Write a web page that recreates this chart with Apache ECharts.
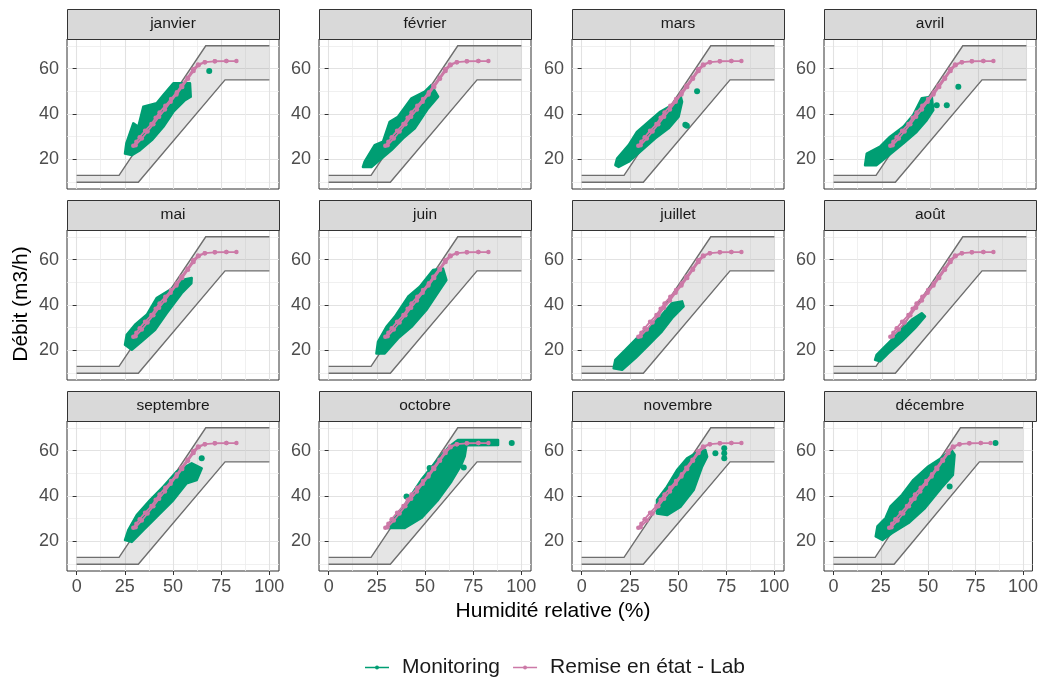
<!DOCTYPE html>
<html>
<head>
<meta charset="utf-8">
<script src="https://cdn.jsdelivr.net/npm/echarts@6/dist/echarts.min.js"></script>
<style>
html, body { margin: 0; padding: 0; background: #fff; }
#chart { width: 1041px; height: 678px; }
</style>
</head>
<body>
<div id="chart"></div>
<script>
var months = ['janvier', 'février', 'mars', 'avril', 'mai', 'juin',
    'juillet', 'août', 'septembre', 'octobre', 'novembre', 'décembre'];

var xTicks = [0, 25, 50, 75, 100];
var xMinor = [12.5, 37.5, 62.5, 87.5];
var yTicks = [20, 40, 60];
var yMinor = [10, 30, 50, 70];

// grey tolerance band, same in every panel
var bandUpper = [[0, 13], [22, 13], [67, 70], [100, 70]];
var bandLower = [[0, 10], [32, 10], [77, 55], [100, 55]];

// lab curve (rising then falling strand)
var labCurve = [[29.4, 26.0], [31, 27.8], [32.7, 29.8], [35.5, 32.6], [38.8, 35.6], [41, 38.3], [43, 40.7],
    [46, 43.6], [49, 46.6], [52, 49.6], [54.3, 52.4], [57.5, 56.0], [60.4, 59.7], [63, 61.8], [66.5, 62.8],
    [71.7, 63.2], [77.7, 63.3], [82.9, 63.3], [77.7, 63.3], [71.7, 63.2], [66.5, 62.8], [63.3, 61.5],
    [60.7, 58.9], [57.8, 55.5], [54.8, 51.9], [51.8, 48.6], [48.8, 45.4], [45.8, 42.0], [42.8, 38.8],
    [39.8, 35.5], [36.8, 32.3], [33.8, 29.2], [30.6, 26.3]];

// monitoring point clouds: outline of the dense area + isolated points
var cloudJanvier = [[25.1, 22.6], [25.8, 27.1], [29.4, 35.9], [32.0, 34.4], [34.6, 43.2], [41.5, 44.7], [45.0, 48.3],
    [50.2, 53.5], [58.8, 53.5], [59.2, 47.6], [56.2, 46.1], [50.2, 41.0], [45.0, 34.4], [39.0, 28.5], [32.9, 24.1], [28.6, 21.9]];
var extraJanvier = [[68.8, 58.9]];
var cloudFevrier = [[17.8, 16.7], [18.7, 19.0], [23.9, 26.3], [28.2, 27.8], [31.7, 36.6], [36.0, 38.8], [43.0, 46.9],
    [49.9, 49.8], [53.3, 52.7], [56.8, 47.6], [51.6, 42.5], [44.7, 33.7], [38.6, 29.3], [32.6, 24.1], [27.4, 20.4], [22.2, 16.7]];
var extraFevrier = [];
var cloudMars = [[17.5, 17.5], [18.4, 20.4], [24.4, 26.3], [28.7, 32.1], [34.8, 36.6], [40.8, 41.0], [46.9, 43.9],
    [51.2, 48.3], [52.1, 45.4], [50.3, 38.8], [45.1, 33.7], [38.2, 29.3], [31.3, 24.1], [24.4, 19.0], [19.2, 16.7]];
var extraMars = [[59.9, 50.0], [53.8, 35.3], [54.6, 34.8]];
var cloudAvril = [[16.3, 17.5], [17.2, 22.6], [24.1, 25.6], [29.3, 30.0], [36.2, 34.4], [41.3, 39.5], [45.7, 46.9],
    [50.9, 47.6], [51.7, 41.7], [48.3, 37.3], [43.1, 32.2], [36.2, 27.1], [27.5, 21.1], [22.3, 17.5]];
var extraAvril = [[53.5, 43.9], [58.7, 43.9], [64.7, 52.0]];
var cloudMai = [[25.1, 22.5], [26.0, 26.9], [30.3, 31.3], [36.4, 35.7], [41.5, 43.0], [48.5, 46.7], [55.4, 51.1],
    [59.7, 51.9], [59.5, 49.5], [54.5, 45.2], [46.7, 36.4], [40.7, 29.1], [33.8, 24.0], [28.6, 20.3]];
var extraMai = [];
var cloudJuin = [[24.8, 18.7], [25.6, 23.8], [30.0, 30.4], [34.3, 34.8], [41.2, 43.6], [47.3, 48.0], [54.2, 55.4],
    [59.3, 56.1], [61.1, 51.0], [57.6, 46.6], [50.7, 37.8], [43.0, 30.4], [36.0, 25.3], [29.1, 18.7]];
var extraJuin = [];
var cloudJuillet = [[16.6, 12.2], [17.5, 15.9], [22.7, 20.3], [28.7, 25.4], [34.8, 29.8], [41.7, 35.7], [46.9, 40.8],
    [52.1, 41.6], [52.9, 39.4], [46.9, 34.2], [41.7, 28.4], [34.8, 22.5], [27.9, 16.6], [21.0, 11.5]];
var extraJuillet = [];
var cloudAout = [[21.5, 15.9], [22.3, 18.1], [28.4, 23.2], [35.3, 29.1], [40.5, 33.5], [45.7, 36.4], [47.4, 35.0],
    [42.2, 29.8], [35.3, 24.0], [28.4, 18.8], [24.1, 15.2]];
var extraAout = [];
var cloudSeptembre = [[25.1, 20.6], [26.8, 25.0], [31.2, 31.6], [38.1, 38.2], [45.0, 44.1], [51.9, 50.7], [59.7, 54.4],
    [64.9, 52.2], [62.3, 47.0], [57.1, 45.6], [50.2, 38.2], [41.5, 30.8], [34.6, 25.0], [28.6, 19.8]];
var extraSeptembre = [[64.9, 56.6]];
var cloudOctobre = [[30.8, 25.9], [31.7, 28.1], [39.5, 36.1], [48.1, 47.1], [56.8, 56.3], [62.8, 61.9], [67.1, 64.6],
    [87.9, 64.6], [87.9, 62.4], [71.5, 62.3], [70.6, 57.5], [68.9, 53.8], [63.7, 46.4], [56.8, 38.3], [48.1, 30.3], [39.5, 25.9]];
var extraOctobre = [[95.0, 63.3], [52.4, 52.3], [40.4, 39.8], [70.1, 52.5]];
var cloudNovembre = [[39.1, 32.3], [39.1, 38.2], [44.3, 44.1], [49.5, 51.4], [54.7, 56.6], [60.7, 59.5], [64.2, 60.2],
    [65.1, 57.3], [62.5, 52.9], [58.1, 42.6], [51.2, 35.2], [44.3, 31.6]];
var extraNovembre = [[69.4, 58.8], [74.0, 61.0], [74.0, 58.8], [74.0, 56.6]];
var cloudDecembre = [[22.3, 22.2], [23.2, 26.6], [27.5, 30.3], [30.1, 35.4], [36.2, 40.5], [42.2, 47.1], [50.0, 53.0],
    [56.9, 56.7], [62.1, 60.4], [63.9, 58.2], [63.0, 49.3], [56.9, 43.5], [48.3, 34.7], [39.6, 28.1], [31.0, 23.7], [25.8, 20.7]];
var extraDecembre = [[61.3, 44.2], [85.5, 63.3]];

var clouds = [cloudJanvier, cloudFevrier, cloudMars, cloudAvril, cloudMai, cloudJuin,
    cloudJuillet, cloudAout, cloudSeptembre, cloudOctobre, cloudNovembre, cloudDecembre];
var extras = [extraJanvier, extraFevrier, extraMars, extraAvril, extraMai, extraJuin,
    extraJuillet, extraAout, extraSeptembre, extraOctobre, extraNovembre, extraDecembre];

var green = '#009E73';
var pink = '#CC79A7';
var font = '"Liberation Sans", Arial, sans-serif';
var colLeft = [67, 319, 572, 824];
var rowTop = [39, 230, 421];
var panelW = 212, panelH = 150;

var chart = echarts.init(document.getElementById('chart'));

function bandRenderer(params, api) {
    if (params.dataIndex !== 0) return null;
    var up = bandUpper.map(function (p) { return api.coord(p); });
    var lo = bandLower.map(function (p) { return api.coord(p); });
    return {
        type: 'group',
        children: [
            {type: 'polygon', shape: {points: up.concat(lo.slice().reverse())},
                style: {fill: 'rgba(150,150,150,0.25)', stroke: null}},
            {type: 'polyline', shape: {points: up}, style: {stroke: '#6e6e6e', lineWidth: 1.4, fill: null}},
            {type: 'polyline', shape: {points: lo}, style: {stroke: '#6e6e6e', lineWidth: 1.4, fill: null}}
        ]
    };
}

function cloudRenderer(points) {
    return function (params, api) {
        if (params.dataIndex !== 0) return null;
        var pts = points.map(function (p) { return api.coord(p); });
        return {
            type: 'polygon',
            shape: {points: pts},
            style: {fill: green, stroke: green, lineWidth: 2.5, lineJoin: 'round'}
        };
    };
}

var grids = [], xAxes = [], yAxes = [], series = [], graphics = [];

for (var i = 0; i < 12; i++) {
    var r = Math.floor(i / 4), c = i % 4;
    var L = colLeft[c], T = rowTop[r];
    var bottomRow = r === 2;

    grids.push({left: L, top: T, width: panelW, height: panelH, show: true,
        backgroundColor: '#fff', borderColor: '#333', borderWidth: 1});

    xAxes.push({
        gridIndex: i, type: 'value', min: -5, max: 105, position: 'bottom',
        axisLine: {show: false},
        axisTick: {show: bottomRow, length: 4, customValues: xTicks, lineStyle: {color: '#333'}},
        axisLabel: {show: bottomRow, customValues: xTicks, margin: 7, fontSize: 18, color: '#4d4d4d', fontFamily: font},
        splitLine: {show: true, lineStyle: {color: '#e2e2e2', width: 1.1}}
    });
    xAxes.push({
        gridIndex: i, type: 'value', min: -5, max: 105, position: 'top',
        axisLine: {show: false},
        axisTick: {show: false, customValues: xMinor},
        axisLabel: {show: false, customValues: xMinor},
        splitLine: {show: true, lineStyle: {color: '#ececec', width: 0.8}}
    });
    yAxes.push({
        gridIndex: i, type: 'value', min: 7, max: 73, position: 'left',
        axisLine: {show: false},
        axisTick: {show: true, length: 4, customValues: yTicks, lineStyle: {color: '#333'}},
        axisLabel: {customValues: yTicks, margin: 8, fontSize: 18, color: '#4d4d4d', fontFamily: font},
        splitLine: {show: true, lineStyle: {color: '#e2e2e2', width: 1.1}}
    });
    yAxes.push({
        gridIndex: i, type: 'value', min: 7, max: 73, position: 'right',
        axisLine: {show: false},
        axisTick: {show: false, customValues: yMinor},
        axisLabel: {show: false, customValues: yMinor},
        splitLine: {show: true, lineStyle: {color: '#ececec', width: 0.8}}
    });

    var xi = 2 * i, yi = 2 * i;
    series.push({
        type: 'custom', xAxisIndex: xi, yAxisIndex: yi, z: 1, silent: true,
        data: bandUpper.concat(bandLower), renderItem: bandRenderer, encode: {x: 0, y: 1}
    });
    series.push({
        name: 'Monitoring', type: 'custom', xAxisIndex: xi, yAxisIndex: yi, z: 2,
        itemStyle: {color: green},
        data: clouds[i], renderItem: cloudRenderer(clouds[i]), encode: {x: 0, y: 1}
    });
    series.push({
        name: 'Monitoring', type: 'scatter', xAxisIndex: xi, yAxisIndex: yi, z: 2,
        symbolSize: 6, itemStyle: {color: green, opacity: 1}, data: extras[i]
    });
    series.push({
        name: 'Remise en état - Lab', type: 'line', xAxisIndex: xi, yAxisIndex: yi, z: 3,
        symbol: 'circle', symbolSize: 4.5, showAllSymbol: true,
        lineStyle: {color: pink, width: 1.8}, itemStyle: {color: pink},
        data: labCurve
    });

    // facet strip
    graphics.push({type: 'rect', z: 10, shape: {x: L + 0.5, y: T - 30 + 0.5, width: panelW, height: 30},
        style: {fill: '#d9d9d9', stroke: '#333', lineWidth: 1}});
    graphics.push({type: 'text', z: 11, x: L + panelW / 2, y: T - 15,
        style: {text: months[i], font: '15.5px ' + font, fill: '#1a1a1a', align: 'center', verticalAlign: 'middle'}});
}

graphics.push({type: 'text', x: 553, y: 611,
    style: {text: 'Humidité relative (%)', font: '21px ' + font, fill: '#000', align: 'center', verticalAlign: 'middle'}});
graphics.push({type: 'text', x: 21, y: 304, rotation: Math.PI / 2,
    style: {text: 'Débit (m3/h)', font: '21px ' + font, fill: '#000', align: 'center', verticalAlign: 'middle'}});

var legendIcon = 'path://M0,3.3 L24,3.3 L24,4.7 L0,4.7 Z M12,2 A2,2 0 1,1 12,6 A2,2 0 1,1 12,2 Z';

var option = {
    animation: false,
    grid: grids,
    xAxis: xAxes,
    yAxis: yAxes,
    series: series,
    graphic: graphics,
    legend: {
        data: [{name: 'Monitoring', icon: legendIcon}, {name: 'Remise en état - Lab', icon: legendIcon}],
        left: 360, top: 652, itemWidth: 24, itemHeight: 8, itemGap: 13,
        textStyle: {fontSize: 21, color: '#1a1a1a', fontFamily: font, padding: [0, 0, 0, 8]}
    }
};
chart.setOption(option);
</script>
</body>
</html>
